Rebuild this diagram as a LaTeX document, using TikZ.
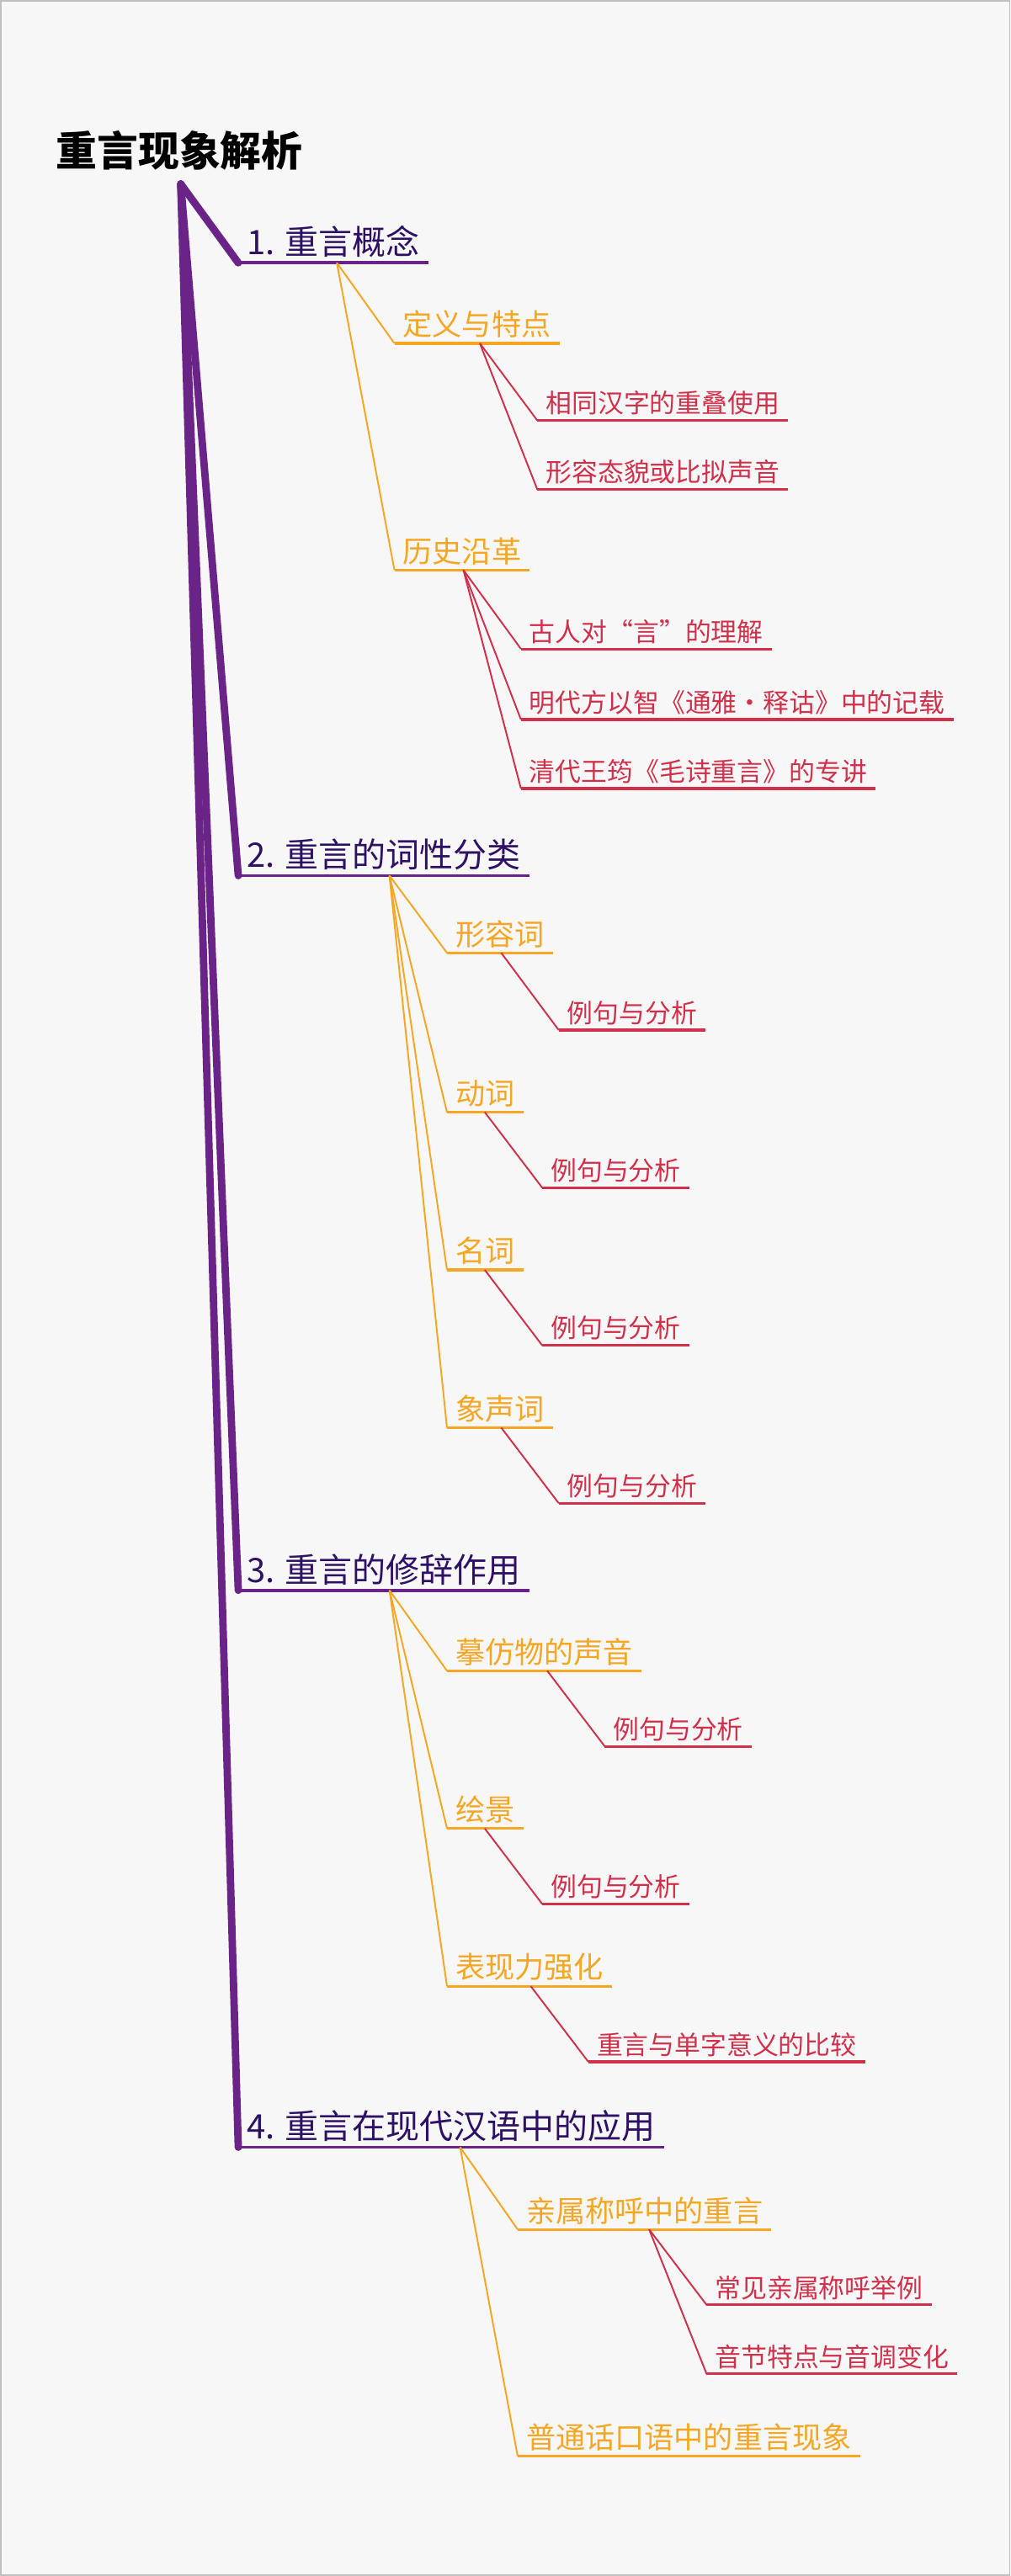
\documentclass[tikz,border=0pt]{standalone}
\usepackage{fontspec}
\setmainfont{Noto Sans CJK SC}
\usetikzlibrary{positioning}
\definecolor{mpurple}{HTML}{6A2387}
\definecolor{mtext}{HTML}{2E1065}
\definecolor{morange}{HTML}{F5A623}
\definecolor{mred}{HTML}{D0304A}
\tikzset{
  lvlA/.style={anchor=south west,inner xsep=5pt,inner ysep=3pt,font=\fontsize{20.5}{22}\selectfont,text=mtext},
  lvlB/.style={anchor=south west,inner xsep=5pt,inner ysep=3pt,font=\fontsize{18}{20}\selectfont,text=morange},
  lvlC/.style={anchor=south west,inner xsep=5pt,inner ysep=3pt,font=\fontsize{15.8}{17}\selectfont,text=mred},
  ulA/.style={mpurple,line width=2pt},
  ulB/.style={morange,line width=1.6pt},
  ulC/.style={mred,line width=1.6pt},
  trunk/.style={mpurple,line width=4.5pt,line cap=round},
  twig/.style={morange,line width=1pt},
  leaf/.style={mred,line width=1pt}
}
\begin{document}
\begin{tikzpicture}[x=1pt,y=-1pt]
\fill[gray!6] (0,0) rectangle (615,1568);
\draw[gray!50,line width=0.6pt] (0.5,0.5) rectangle (614.5,1567.5);
\useasboundingbox (0,0) rectangle (615,1568);

\node[anchor=south west,inner sep=0pt,font=\fontsize{25}{27}\selectfont\bfseries] (title) at (34,104) {重言现象解析};
\coordinate (root) at (110,112);

% first level
\node[lvlA] (C1) at (145,160) {1. 重言概念};
\node[lvlA] (C2) at (145,533) {2. 重言的词性分类};
\node[lvlA] (C3) at (145,968) {3. 重言的修辞作用};
\node[lvlA] (C4) at (145,1307) {4. 重言在现代汉语中的应用};
\foreach \n in {C1,C2,C3,C4}{
  \draw[trunk] (root) -- (\n.south west);
  \draw[ulA] (\n.south west) -- (\n.south east);
}

% second level
\node[lvlB] (B11) at (240,209) {定义与特点};
\node[lvlB] (B12) at (240,347) {历史沿革};
\node[lvlB] (B21) at (272,580) {形容词};
\node[lvlB] (B22) at (272,677) {动词};
\node[lvlB] (B23) at (272,773) {名词};
\node[lvlB] (B24) at (272,869) {象声词};
\node[lvlB] (B31) at (272,1017) {摹仿物的声音};
\node[lvlB] (B32) at (272,1113) {绘景};
\node[lvlB] (B33) at (272,1209) {表现力强化};
\node[lvlB] (B41) at (315,1357) {亲属称呼中的重言};
\node[lvlB] (B42) at (315,1495) {普通话口语中的重言现象};
\coordinate (F1) at (205,160);
\coordinate (F2) at (237,533);
\coordinate (F3) at (237,968);
\coordinate (F4) at (280,1307);
\foreach \f/\n in {F1/B11,F1/B12,F2/B21,F2/B22,F2/B23,F2/B24,F3/B31,F3/B32,F3/B33,F4/B41,F4/B42}{
  \draw[twig] (\f) -- (\n.south west);
  \draw[ulB] (\n.south west) -- (\n.south east);
}

% third level
\node[lvlC] (L1) at (327,256) {相同汉字的重叠使用};
\node[lvlC] (L2) at (327,298) {形容态貌或比拟声音};
\node[lvlC] (L3) at (317,395) {古人对“言”的理解};
\node[lvlC] (L4) at (317,438) {明代方以智《通雅·释诂》中的记载};
\node[lvlC] (L5) at (317,480) {清代王筠《毛诗重言》的专讲};
\node[lvlC] (L6) at (340,627) {例句与分析};
\node[lvlC] (L7) at (330,723) {例句与分析};
\node[lvlC] (L8) at (330,819) {例句与分析};
\node[lvlC] (L9) at (340,915) {例句与分析};
\node[lvlC] (L10) at (368,1063) {例句与分析};
\node[lvlC] (L11) at (330,1159) {例句与分析};
\node[lvlC] (L12) at (358,1255) {重言与单字意义的比较};
\node[lvlC] (L13) at (430,1403) {常见亲属称呼举例};
\node[lvlC] (L14) at (430,1445) {音节特点与音调变化};
\coordinate (G1) at (292,209);
\coordinate (G2) at (282,347);
\coordinate (G3) at (305,580);
\coordinate (G4) at (295,677);
\coordinate (G5) at (295,773);
\coordinate (G6) at (305,869);
\coordinate (G7) at (333,1017);
\coordinate (G8) at (295,1113);
\coordinate (G9) at (323,1209);
\coordinate (G10) at (395,1357);
\foreach \g/\n in {G1/L1,G1/L2,G2/L3,G2/L4,G2/L5,G3/L6,G4/L7,G5/L8,G6/L9,G7/L10,G8/L11,G9/L12,G10/L13,G10/L14}{
  \draw[leaf] (\g) -- (\n.south west);
  \draw[ulC] (\n.south west) -- (\n.south east);
}
\end{tikzpicture}
\end{document}
